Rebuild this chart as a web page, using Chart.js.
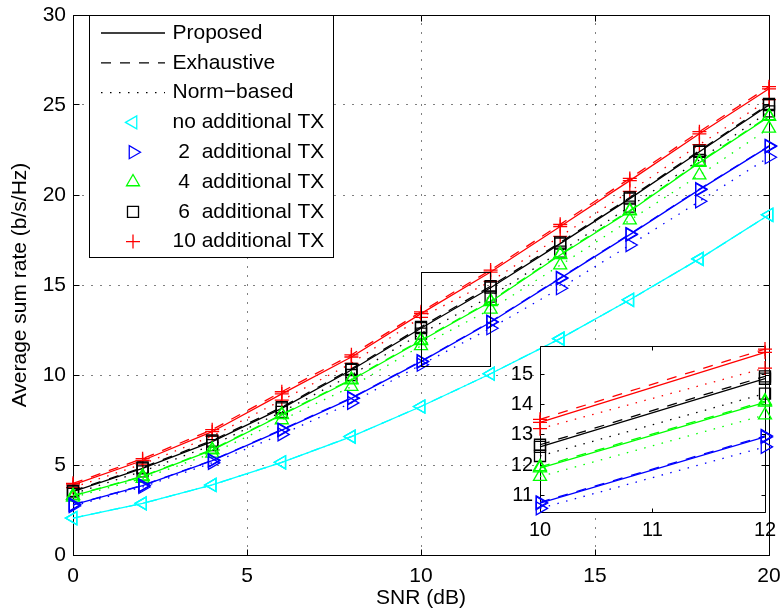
<!DOCTYPE html>
<html>
<head>
<meta charset="utf-8">
<script src="https://cdn.jsdelivr.net/npm/chart.js@4.4.1/dist/chart.umd.min.js"></script>
<style>
  html, body { margin: 0; padding: 0; background: #fff; }
  #wrap { position: relative; width: 782px; height: 612px; overflow: hidden; }
  #main { position: absolute; left: 0; top: 0; }
  #inset { position: absolute; left: 495px; top: 336px; }
</style>
</head>
<body>
<div id="wrap">
  <canvas id="main" width="782" height="612"></canvas>
  <canvas id="inset" width="282" height="212"></canvas>
</div>
<script>
// SNR grid (dB)
const snr = [0, 2, 4, 6, 8, 10, 12, 14, 16, 18, 20];

// Average sum rate (b/s/Hz); with no additional TX all three schemes coincide
const noTxRate      = [2.05, 2.87, 3.89, 5.15, 6.58, 8.25, 10.07, 12.02, 14.18, 16.45, 18.90];

const tx2Proposed   = [2.78, 3.85, 5.24, 6.94, 8.70, 10.74, 12.93, 15.37, 17.80, 20.30, 22.70];
const tx2Exhaustive = [2.80, 3.87, 5.26, 6.97, 8.73, 10.77, 12.96, 15.40, 17.83, 20.33, 22.73];
const tx2Norm       = [2.72, 3.78, 5.12, 6.70, 8.45, 10.57, 12.60, 14.82, 17.22, 19.65, 22.10];

const tx4Proposed   = [3.28, 4.35, 5.83, 7.78, 9.72, 11.90, 14.07, 16.67, 19.10, 21.80, 24.35];
const tx4Exhaustive = [3.30, 4.38, 5.86, 7.81, 9.76, 11.94, 14.11, 16.71, 19.14, 21.84, 24.39];
const tx4Norm       = [3.20, 4.25, 5.65, 7.50, 9.35, 11.62, 13.65, 16.10, 18.60, 21.10, 23.70];

const tx6Proposed   = [3.52, 4.81, 6.30, 8.15, 10.28, 12.60, 14.85, 17.30, 19.80, 22.40, 25.00];
const tx6Exhaustive = [3.56, 4.86, 6.36, 8.21, 10.34, 12.67, 14.93, 17.36, 19.86, 22.46, 25.06];
const tx6Norm       = [3.40, 4.65, 6.10, 7.95, 10.00, 12.30, 14.36, 16.85, 19.35, 21.95, 24.65];

const tx10Proposed   = [3.90, 5.25, 6.85, 8.95, 11.00, 13.41, 15.72, 18.25, 20.80, 23.40, 25.90];
const tx10Exhaustive = [3.98, 5.35, 6.96, 9.07, 11.12, 13.51, 15.83, 18.37, 20.92, 23.52, 26.02];
const tx10Norm       = [3.75, 5.05, 6.60, 8.60, 10.65, 13.20, 15.20, 17.70, 20.20, 22.80, 25.30];

// Labels
const methodLabels = ['Proposed', 'Exhaustive', 'Norm\u2212based'];
const configLabels = ['no additional TX', ' 2  additional TX', ' 4  additional TX', ' 6  additional TX', '10 additional TX'];

// Tick values
const xTicks = [0, 5, 10, 15, 20];
const yTicks = [0, 5, 10, 15, 20, 25, 30];
const insetXTicks = [10, 11, 12];
const insetYTicks = [11, 12, 13, 14, 15];

// Zoomed region shown in the inset
const zoomSnr = [10, 12];
const zoomRate = [10.5, 15.7];
const insetRate = [10.45, 15.93];

const seriesRates = [
  [noTxRate, noTxRate, noTxRate],
  [tx2Proposed, tx2Exhaustive, tx2Norm],
  [tx4Proposed, tx4Exhaustive, tx4Norm],
  [tx6Proposed, tx6Exhaustive, tx6Norm],
  [tx10Proposed, tx10Exhaustive, tx10Norm]
];

// Styles
const FONT = '"Liberation Sans", Arial, Helvetica, sans-serif';
const seriesStyle = [
  { color: '#00ffff', pointStyle: 'triangle', rotation: -90, radius: 7.5 },
  { color: '#0000ff', pointStyle: 'triangle', rotation: 90,  radius: 7.5 },
  { color: '#00ff00', pointStyle: 'triangle', rotation: 0,   radius: 7.5 },
  { color: '#000000', pointStyle: 'rect',     rotation: 0,   radius: 7.8 },
  { color: '#ff0000', pointStyle: 'cross',    rotation: 0,   radius: 7 }
];
const methodDash = [[], [10, 9], [1.5, 7.5]];
const LINE_W = 1.3;

Chart.defaults.font.family = FONT;
Chart.defaults.font.size = 21;
Chart.defaults.color = '#000';

// One dataset per (configuration, scheme); keepX limits the SNR points,
// yRange (optional) drops series that never enter the visible rate range
function buildDatasets(keepX, yRange) {
  const out = [];
  seriesRates.forEach((methods, s) => {
    const st = seriesStyle[s];
    methods.forEach((vals, m) => {
      const pts = snr.map((x, i) => ({ x: x, y: vals[i] })).filter(p => keepX(p.x));
      if (yRange && !pts.some(p => p.y >= yRange[0] && p.y <= yRange[1])) return;
      out.push({
        label: methodLabels[m] + ' - ' + configLabels[s].trim(),
        data: pts,
        borderColor: st.color,
        borderWidth: LINE_W,
        borderDash: methodDash[m],
        pointStyle: st.pointStyle,
        pointRotation: st.rotation,
        pointRadius: st.radius,
        pointHoverRadius: st.radius,
        pointBorderColor: st.color,
        pointBackgroundColor: 'rgba(0,0,0,0)',
        pointBorderWidth: LINE_W,
        tension: 0,
        fill: false,
        clip: false
      });
    });
  });
  return out;
}

// Box, inward tick marks and dotted grid
const axesFrame = {
  id: 'axesFrame',
  beforeDatasetsDraw(chart, args, o) {
    const { ctx, chartArea: a, scales } = chart;
    const L = Math.floor(a.left) + 0.5, R = Math.floor(a.right) + 0.5;
    const T = Math.floor(a.top) + 0.5, B = Math.floor(a.bottom) + 0.5;
    const px = v => Math.floor(scales.x.getPixelForValue(v)) + 0.5;
    const py = v => Math.floor(scales.y.getPixelForValue(v)) + 0.5;
    ctx.save();
    if (o.fill) {
      ctx.fillStyle = '#fff';
      ctx.fillRect(L, T, R - L, B - T);
    }
    ctx.strokeStyle = '#000';
    ctx.lineWidth = 1;
    if (o.grid) {
      ctx.setLineDash([1, 8]);
      ctx.beginPath();
      scales.x.ticks.forEach(t => { const p = px(t.value); ctx.moveTo(p, B); ctx.lineTo(p, T); });
      scales.y.ticks.forEach(t => { const p = py(t.value); ctx.moveTo(L, p); ctx.lineTo(R, p); });
      ctx.stroke();
      ctx.setLineDash([]);
    }
    ctx.beginPath();
    scales.x.ticks.forEach(t => {
      const p = px(t.value);
      ctx.moveTo(p, B); ctx.lineTo(p, B - o.tick);
      ctx.moveTo(p, T); ctx.lineTo(p, T + o.tick);
    });
    scales.y.ticks.forEach(t => {
      const p = py(t.value);
      ctx.moveTo(L, p); ctx.lineTo(L + o.tick, p);
      ctx.moveTo(R, p); ctx.lineTo(R - o.tick, p);
    });
    ctx.rect(L, T, R - L, B - T);
    ctx.stroke();
    ctx.restore();
  }
};

// Rectangle marking the zoomed region
const zoomBox = {
  id: 'zoomBox',
  afterDatasetsDraw(chart) {
    const { ctx, scales: { x, y } } = chart;
    const x0 = Math.floor(x.getPixelForValue(zoomSnr[0])) + 0.5;
    const x1 = Math.floor(x.getPixelForValue(zoomSnr[1])) + 0.5;
    const y0 = Math.floor(y.getPixelForValue(zoomRate[0])) + 0.5;
    const y1 = Math.floor(y.getPixelForValue(zoomRate[1])) + 0.5;
    ctx.save();
    ctx.strokeStyle = '#000';
    ctx.lineWidth = 1;
    ctx.strokeRect(x0, y1, x1 - x0, y0 - y1);
    ctx.restore();
  }
};

function drawMarker(ctx, st, x, y) {
  const r = st.radius;
  ctx.save();
  ctx.strokeStyle = st.color;
  ctx.lineWidth = LINE_W;
  ctx.beginPath();
  if (st.pointStyle === 'triangle') {
    let rad = st.rotation * Math.PI / 180;
    for (let k = 0; k < 3; k++) {
      const vx = x + Math.sin(rad) * r, vy = y - Math.cos(rad) * r;
      if (k === 0) ctx.moveTo(vx, vy); else ctx.lineTo(vx, vy);
      rad += 2 * Math.PI / 3;
    }
    ctx.closePath();
  } else if (st.pointStyle === 'rect') {
    const h = r * Math.SQRT1_2;
    ctx.rect(x - h, y - h, 2 * h, 2 * h);
  } else {
    ctx.moveTo(x, y - r); ctx.lineTo(x, y + r);
    ctx.moveTo(x - r, y); ctx.lineTo(x + r, y);
  }
  ctx.stroke();
  ctx.restore();
}

// Legend box in the upper left of the plot
const boxLegend = {
  id: 'boxLegend',
  afterDraw(chart) {
    const ctx = chart.ctx;
    const l = 89.5, t = 15.5, r = 333.5, b = 257.5;
    const firstRow = 33, rowStep = 29.8;
    ctx.save();
    ctx.fillStyle = '#fff';
    ctx.fillRect(l, t, r - l, b - t);
    ctx.strokeStyle = '#000';
    ctx.lineWidth = 1;
    ctx.strokeRect(l, t, r - l, b - t);
    ctx.font = '21px ' + FONT;
    ctx.textBaseline = 'middle';
    ctx.textAlign = 'left';
    ctx.fillStyle = '#000';
    let row = 0;
    methodLabels.forEach((lab, m) => {
      const y = firstRow + row * rowStep;
      ctx.save();
      ctx.lineWidth = LINE_W;
      ctx.setLineDash(methodDash[m]);
      ctx.beginPath();
      ctx.moveTo(101, y);
      ctx.lineTo(165, y);
      ctx.stroke();
      ctx.restore();
      ctx.fillText(lab, 172.5, y);
      row++;
    });
    configLabels.forEach((lab, s) => {
      const y = firstRow + row * rowStep;
      drawMarker(ctx, seriesStyle[s], 133, y);
      ctx.fillText(lab, 172.5, y);
      row++;
    });
    ctx.restore();
  }
};

const setTicks = vals => s => { s.ticks = vals.map(v => ({ value: v })); };

new Chart(document.getElementById('main'), {
  type: 'line',
  data: { datasets: buildDatasets(() => true) },
  options: {
    animation: false,
    responsive: false,
    devicePixelRatio: 1,
    events: [],
    layout: { padding: { left: 0, top: 15, right: 13, bottom: 0 } },
    plugins: {
      legend: { display: false },
      tooltip: { enabled: false },
      axesFrame: { grid: true, tick: 6, fill: false }
    },
    scales: {
      x: {
        type: 'linear', min: 0, max: 20,
        afterBuildTicks: setTicks(xTicks),
        ticks: { padding: 9, maxRotation: 0, autoSkip: false, font: { size: 21 } },
        grid: { display: false, drawTicks: false },
        border: { display: false },
        title: { display: true, text: 'SNR (dB)', font: { size: 21 }, padding: { top: 0, bottom: 1 } },
        afterFit: s => { s.height = 57; s.paddingLeft = 0; s.paddingRight = 0; }
      },
      y: {
        type: 'linear', min: 0, max: 30,
        afterBuildTicks: setTicks(yTicks),
        ticks: { padding: 7, autoSkip: false, font: { size: 21 } },
        grid: { display: false, drawTicks: false },
        border: { display: false },
        title: { display: true, text: 'Average sum rate (b/s/Hz)', font: { size: 21 }, padding: { top: 8, bottom: 0 } },
        afterFit: s => { s.width = 73; s.paddingTop = 0; s.paddingBottom = 0; }
      }
    }
  },
  plugins: [axesFrame, zoomBox, boxLegend]
});

new Chart(document.getElementById('inset'), {
  type: 'line',
  data: { datasets: buildDatasets(x => x >= zoomSnr[0] && x <= zoomSnr[1], insetRate) },
  options: {
    animation: false,
    responsive: false,
    devicePixelRatio: 1,
    events: [],
    layout: { padding: { left: 0, top: 10, right: 12, bottom: 0 } },
    plugins: {
      legend: { display: false },
      tooltip: { enabled: false },
      axesFrame: { grid: false, tick: 4, fill: true }
    },
    scales: {
      x: {
        type: 'linear', min: zoomSnr[0], max: zoomSnr[1],
        afterBuildTicks: setTicks(insetXTicks),
        ticks: { padding: 6.5, maxRotation: 0, autoSkip: false, font: { size: 20 } },
        grid: { display: false, drawTicks: false },
        border: { display: false },
        afterFit: s => { s.height = 36; s.paddingLeft = 0; s.paddingRight = 0; }
      },
      y: {
        type: 'linear', min: insetRate[0], max: insetRate[1],
        afterBuildTicks: setTicks(insetYTicks),
        ticks: { padding: 7, autoSkip: false, font: { size: 20 } },
        grid: { display: false, drawTicks: false },
        border: { display: false },
        afterFit: s => { s.width = 45; s.paddingTop = 0; s.paddingBottom = 0; }
      }
    }
  },
  plugins: [axesFrame]
});
</script>
</body>
</html>
